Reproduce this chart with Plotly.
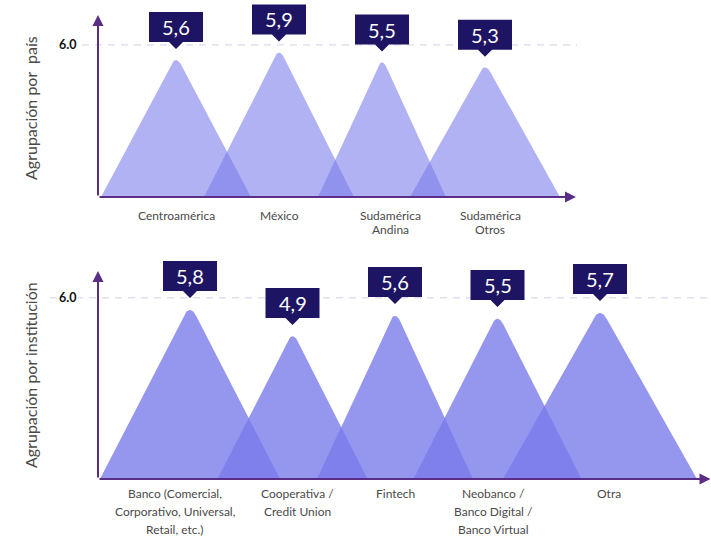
import plotly.graph_objects as go
import numpy as np

# ---------------- data ----------------
pais_labels = ["Centroamérica", "México", "Sudamérica<br>Andina", "Sudamérica<br>Otros"]
pais_values = [5.6, 5.9, 5.5, 5.3]

inst_labels = ["Banco (Comercial,<br>Corporativo, Universal,<br>Retail, etc.)",
               "Cooperativa /<br>Credit Union", "Fintech",
               "Neobanco /<br>Banco Digital /<br>Banco Virtual", "Otra"]
inst_values = [5.8, 4.9, 5.6, 5.5, 5.7]

ref_value = 6.0
ref_label = "6.0"
title_pais = "Agrupación por\u00a0 país"
title_inst = "Agrupación por institución"

# ---------------- style ----------------
W, H = 711, 537
BASE = (120, 122, 234)
ALPHA_TOP, ALPHA_BOT = 0.58, 0.79
BOX = "#1e1464"
AXIS = "#5a2d86"
TXT = "#4a4a4a"
FONT = "Lato"
hw_top = [0.728, 0.728, 0.621, 0.728]
hw_bot = [0.878, 0.732, 0.761, 0.82, 0.946]
lab_shift_top = [0, 0, 8, 5]
lab_shift_bot = [-15, 5, 0, -4, 9]

# geometry of panels (pixels): yb baseline, yt arrow tip, ytop top of drawing area
top_px = dict(x0=98, x1=577, yb=197, yt=15, ytop=0, apex0=176, step=103)
bot_px = dict(x0=98, x1=711, yb=479, yt=271, ytop=245, apex0=190, step=102.5)
top_arrow = 7.18   # value at y-arrow tip
bot_arrow = 6.89


def xr(p):
    return [(p["x0"] - p["apex0"]) / p["step"], (p["x1"] - p["apex0"]) / p["step"]]


def ymax(p, arrow):
    ppu = (p["yb"] - p["yt"]) / arrow
    return (p["yb"] - p["ytop"]) / ppu


fig = go.Figure()


def mountain(xc, v, hw, color, xa, ya, t=0.07):
    lx, rx = xc - hw, xc + hw
    p1 = (xc + t * (lx - xc), v + t * (0 - v))
    p2 = (xc + t * (rx - xc), v + t * (0 - v))
    s = np.linspace(0, 1, 12)
    bx = (1 - s) ** 2 * p1[0] + 2 * (1 - s) * s * xc + s ** 2 * p2[0]
    by = (1 - s) ** 2 * p1[1] + 2 * (1 - s) * s * v + s ** 2 * p2[1]
    xs = [lx] + list(bx) + [rx, lx]
    ys = [0] + list(by) + [0, 0]
    fig.add_trace(go.Scatter(x=xs, y=ys, mode="lines", fill="toself",
                             fillcolor=color, line=dict(width=0),
                             hoverinfo="skip", showlegend=False,
                             xaxis=xa, yaxis=ya))


ctop = "rgba(%d,%d,%d,%.2f)" % (*BASE, ALPHA_TOP)
cbot = "rgba(%d,%d,%d,%.2f)" % (*BASE, ALPHA_BOT)
for i, v in enumerate(pais_values):
    mountain(i, v, hw_top[i], ctop, "x", "y")
for i, v in enumerate(inst_values):
    mountain(i, v, hw_bot[i], cbot, "x2", "y2")

shapes = []
annotations = []

box_path = "M -27,13 L -7,13 L 0,6 L 7,13 L 27,13 L 27,43 L -27,43 Z"


def value_boxes(values, xref, yref):
    for i, v in enumerate(values):
        shapes.append(dict(type="path", xref=xref, yref=yref,
                           xsizemode="pixel", ysizemode="pixel",
                           xanchor=i, yanchor=v, path=box_path,
                           fillcolor=BOX, line=dict(width=0), layer="above"))
        annotations.append(dict(x=i, y=v, xref=xref, yref=yref,
                                text=("%.1f" % v).replace(".", ","),
                                showarrow=False, yshift=28, yanchor="middle",
                                xanchor="center",
                                font=dict(family=FONT, size=20, color="white")))


value_boxes(pais_values, "x", "y")
value_boxes(inst_values, "x2", "y2")

# reference dashed lines
shapes.append(dict(type="line", xref="paper", yref="y", x0=82 / W, x1=577 / W,
                   y0=ref_value, y1=ref_value, layer="below",
                   line=dict(color="#d4d0ea", width=1, dash="7px,6px")))
shapes.append(dict(type="line", xref="paper", yref="y2", x0=50 / W, x1=1.0,
                   y0=ref_value, y1=ref_value, layer="below",
                   line=dict(color="#d4d0ea", width=1, dash="7px,6px")))

# 6.0 tick labels
for yref in ["y", "y2"]:
    annotations.append(dict(x=78 / W, y=ref_value, xref="paper", yref=yref,
                            text="<b>%s</b>" % ref_label, showarrow=False,
                            xanchor="right", yanchor="middle", bgcolor="white",
                            font=dict(family=FONT, size=12.5, color="#111111")))


# axis arrows
def axis_arrows(rng, ytip, xref, yref):
    x0, x1 = rng
    annotations.append(dict(x=x0, y=ytip, ax=x0, ay=0, xref=xref, yref=yref,
                            axref=xref, ayref=yref, showarrow=True, arrowhead=2,
                            arrowsize=1.1, arrowwidth=2, arrowcolor=AXIS, text=""))
    annotations.append(dict(x=x1, y=0, ax=x0, ay=0, xref=xref, yref=yref,
                            axref=xref, ayref=yref, showarrow=True, arrowhead=2,
                            arrowsize=1.1, arrowwidth=2, arrowcolor=AXIS, text=""))


rt, rb = xr(top_px), xr(bot_px)
axis_arrows([rt[0], rt[1] - 0.01], top_arrow, "x", "y")
axis_arrows([rb[0], rb[1] - 0.005], bot_arrow, "x2", "y2")


# category labels (one annotation per line for exact line spacing)
def cat_labels(labels, xref, yref, shifts, y0, step, size):
    for i, lab in enumerate(labels):
        for k, line in enumerate(lab.split("<br>")):
            annotations.append(dict(x=i, y=0, xref=xref, yref=yref, text=line,
                                    showarrow=False, yanchor="middle", xanchor="center",
                                    yshift=-(y0 + k * step), xshift=shifts[i],
                                    font=dict(family=FONT, size=size, color=TXT)))


cat_labels(pais_labels, "x", "y", lab_shift_top, 18, 14, 12)
cat_labels(inst_labels, "x2", "y2", lab_shift_bot, 14, 18, 12)

# y titles
annotations.append(dict(x=30 / W, y=1 - 108 / H, xref="paper", yref="paper",
                        text=title_pais, textangle=-90, showarrow=False,
                        xanchor="center", yanchor="middle",
                        font=dict(family=FONT, size=16, color=TXT)))
annotations.append(dict(x=30 / W, y=1 - 375 / H, xref="paper", yref="paper",
                        text=title_inst, textangle=-90, showarrow=False,
                        xanchor="center", yanchor="middle",
                        font=dict(family=FONT, size=16, color=TXT)))

ax_common = dict(visible=False, showgrid=False, zeroline=False, fixedrange=True)
fig.update_layout(
    width=W, height=H, margin=dict(l=0, r=0, t=0, b=0),
    paper_bgcolor="white", plot_bgcolor="white", showlegend=False,
    xaxis=dict(domain=[top_px["x0"] / W, top_px["x1"] / W], range=rt, **ax_common),
    yaxis=dict(domain=[1 - top_px["yb"] / H, 1 - top_px["ytop"] / H],
               range=[0, ymax(top_px, top_arrow)], **ax_common),
    xaxis2=dict(domain=[bot_px["x0"] / W, bot_px["x1"] / W], range=rb,
                anchor="y2", **ax_common),
    yaxis2=dict(domain=[1 - bot_px["yb"] / H, 1 - bot_px["ytop"] / H],
                range=[0, ymax(bot_px, bot_arrow)], anchor="x2", **ax_common),
    shapes=shapes, annotations=annotations,
)

fig.write_html("out.html")
